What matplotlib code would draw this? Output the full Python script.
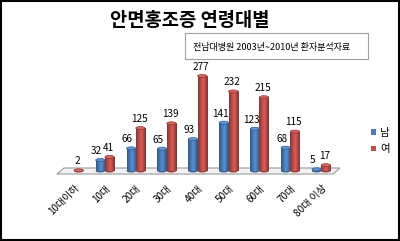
import matplotlib
matplotlib.use("Agg")
import matplotlib.pyplot as plt
import numpy as np
from matplotlib.patches import Ellipse, Polygon, Rectangle
from matplotlib.colors import LinearSegmentedColormap, to_rgb

plt.rcParams['font.family'] = ['Noto Sans CJK KR', 'DejaVu Sans']

# data
ages = ['10대이하', '10대', '20대', '30대', '40대', '50대', '60대', '70대', '80대 이상']
male = [None, 32, 66, 65, 93, 141, 123, 68, 5]
female = [2, 41, 125, 139, 277, 232, 215, 115, 17]
series_names = ['남', '여']
title = '안면홍조증 연령대별'
note = '전남대병원 2003년~2010년 환자분석자료'

blue = '#4a7ebb'
red = '#c0504d'

W, H = 400, 241
fig = plt.figure(figsize=(W / 100, H / 100), dpi=100)

# pixel layout of the plot area
x0_px, dx_px = 74, 30.9        # first category centre, spacing
base_px, k = 171, 0.343        # baseline pixel, pixels per unit
left_px, right_px, top_px, bot_px = 45, 350, 60, 176

ax = fig.add_axes([left_px / W, 1 - bot_px / H, (right_px - left_px) / W, (bot_px - top_px) / H])
xlim = ((left_px - x0_px) / dx_px, (right_px - x0_px) / dx_px)
ylim = ((base_px - bot_px) / k, (base_px - top_px) / k)

def to_data(px, py):
    return ((px - x0_px) / dx_px, (base_px - py) / k)

# floor of the 3D chart
floor = [to_data(57, 174), to_data(64, 168), to_data(340, 168), to_data(333, 174)]
ax.add_patch(Polygon(floor, closed=True, facecolor='#f2f2f2', edgecolor='#9a9a9a', lw=0.8, zorder=1))

x = np.arange(len(ages))
w = 0.3
off = 0.15
mvals = np.array([v if v is not None else 0 for v in male], dtype=float)
fvals = np.array(female, dtype=float)

bars_m = ax.bar(x - off, mvals, w, color=blue, edgecolor='none', zorder=2, label=series_names[0])
bars_f = ax.bar(x + off, fvals, w, color=red, edgecolor='none', zorder=2, label=series_names[1])

def shade(bars, base_col):
    c = np.array(to_rgb(base_col))
    cm = LinearSegmentedColormap.from_list('c', [
        (0, c * 0.7), (0.35, c), (0.55, np.minimum(c * 1.15, 1)), (1, c * 0.65)])
    grad = np.linspace(0, 1, 32).reshape(1, -1)
    for b in bars:
        h = b.get_height()
        if h <= 0:
            continue
        bx, bw = b.get_x(), b.get_width()
        im = ax.imshow(grad, extent=[bx, bx + bw, 0, h], cmap=cm, aspect='auto', zorder=2.5)
        im.set_clip_path(b)
        ax.add_patch(Ellipse((bx + bw / 2, h), bw, 3.0 / k, facecolor=np.minimum(c * 1.2, 1),
                             edgecolor=c * 0.7, lw=0.5, zorder=3))
        ax.add_patch(Ellipse((bx + bw / 2, 0), bw, 3.0 / k, facecolor=c * 0.8,
                             edgecolor='none', zorder=1.9))

shade(bars_m, blue)
shade(bars_f, red)

# value labels
for vals, bars, shift in ((male, bars_m, -0.12), (female, bars_f, -0.04)):
    for v, b in zip(vals, bars):
        if v is None:
            continue
        ax.text(b.get_x() + b.get_width() / 2 + shift, b.get_height() + 12, str(v),
                ha='center', va='bottom', fontsize=7.2, color='black', zorder=4)

ax.set_xlim(*xlim)
ax.set_ylim(*ylim)
ax.set_yticks([])
ax.set_xticks(x)
ax.set_xticklabels(ages, rotation=45, ha='right', rotation_mode='anchor', fontsize=7.2)
ax.tick_params(axis='x', length=0, pad=5)
for s in ax.spines.values():
    s.set_visible(False)
ax.patch.set_visible(False)

# title and note box
fig.text(190 / W, 1 - 21 / H, title, ha='center', va='center', fontsize=13.5, fontweight='bold')
fig.patches.append(Rectangle((185 / W, 1 - 59 / H), 183 / W, 26 / H, transform=fig.transFigure,
                             facecolor='white', edgecolor='#a0a0a0', lw=0.8))
fig.text(193 / W, 1 - 47 / H, note, ha='left', va='center', fontsize=6.5)

# legend
fig.legend(handles=[bars_m, bars_f], labels=series_names, loc='center left',
           bbox_to_anchor=(366 / W, 1 - 141 / H), frameon=False, fontsize=7.5,
           handlelength=0.45, handleheight=0.45, handletextpad=0.4, labelspacing=0.6,
           borderpad=0)

# outer border
fig.patches.append(Rectangle((0.002, 0.003), 0.995, 0.993, transform=fig.transFigure,
                             facecolor='none', edgecolor='black', lw=1.5))

fig.savefig('out.png', dpi=100)
